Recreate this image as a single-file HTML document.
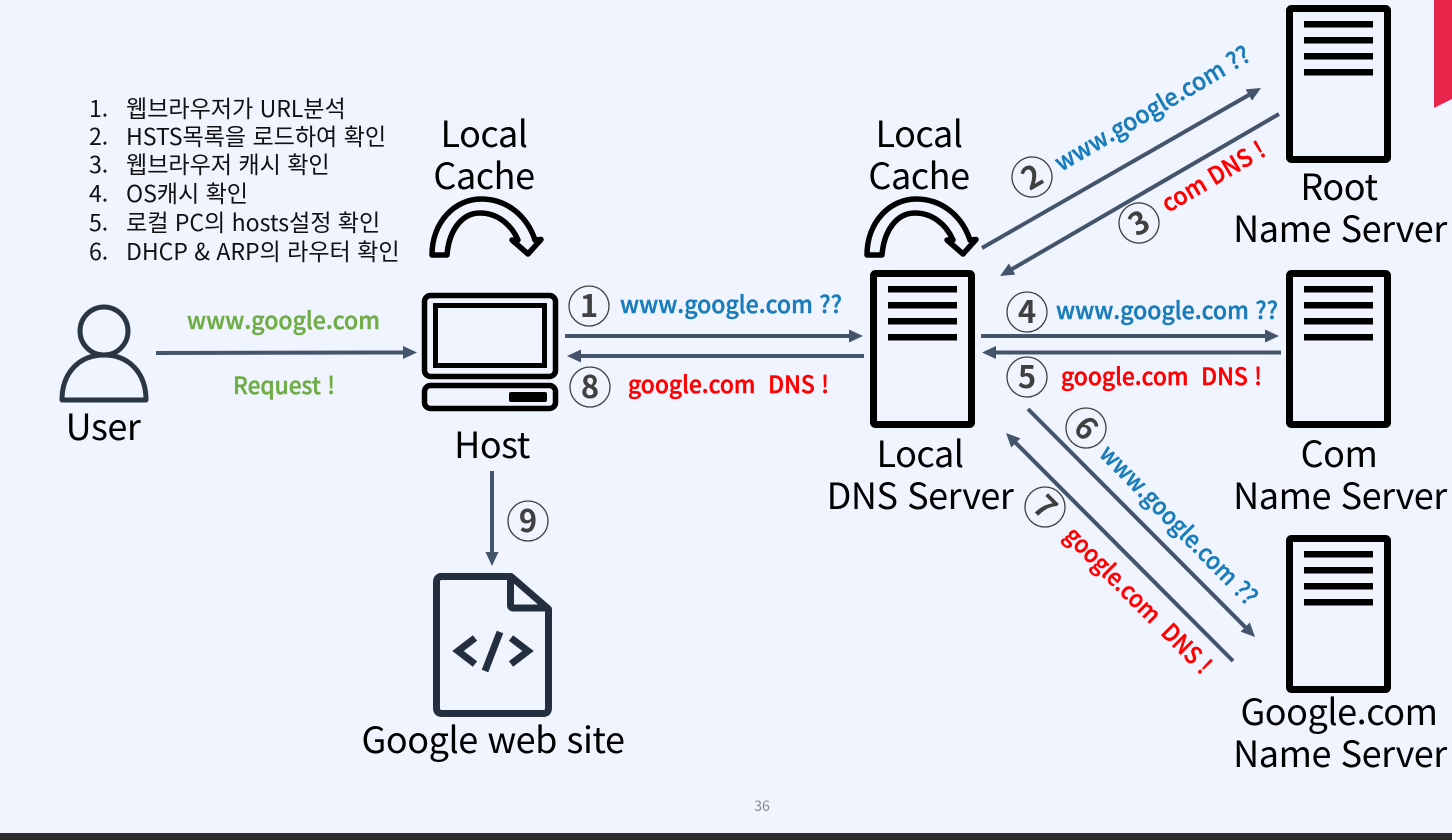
<!DOCTYPE html>
<html lang="ko">
<head>
<meta charset="utf-8">
<style>
html,body{margin:0;padding:0;background:#f0f4ff;width:1452px;height:840px;overflow:hidden}
svg{display:block}
text{font-family:"Noto Sans CJK KR","Liberation Sans",sans-serif}
.l{font-size:36px;fill:#000;text-anchor:middle;letter-spacing:-0.45px}
.li{font-size:23.1px;fill:#111;letter-spacing:-0.05px}
.b{font-size:24px;font-weight:500;fill:#1a7dbb;stroke:#1a7dbb;stroke-width:.45}
.r{font-size:24px;font-weight:500;fill:#f00;stroke:#f00;stroke-width:.45}
.g{font-size:24px;font-weight:500;fill:#70ad47;stroke:#70ad47;stroke-width:.45}
.n{font-size:31px;font-weight:700;fill:#404040;text-anchor:middle}
.c{fill:none;stroke:#404040;stroke-width:1.3}
.a{stroke:#44546a;stroke-width:4;fill:none}
</style>
</head>
<body>
<svg width="1452" height="840" viewBox="0 0 1452 840" xmlns="http://www.w3.org/2000/svg">
<defs>
<marker id="h" markerUnits="userSpaceOnUse" markerWidth="16" markerHeight="14" refX="6" refY="6.5" orient="auto">
<path d="M0,0 L14,6.5 L0,13 Z" fill="#44546a"/>
</marker>
<g id="srv">
<rect x="3.5" y="3.5" width="98" height="151" rx="2" fill="none" stroke="#000" stroke-width="7"/>
<rect x="18" y="16" width="69" height="6.5" fill="#000"/>
<rect x="18" y="32" width="69" height="6.5" fill="#000"/>
<rect x="18" y="48" width="69" height="6.5" fill="#000"/>
<rect x="18" y="64" width="69" height="6.5" fill="#000"/>
</g>
<path id="curve" d="M432,255 C432,222 455,199 481,199 C507,199 527,216 535,240 L541,239.5 L528,254 L512,240 L518,240 C511,224 497,213 480,213 C462,213 449,230 447,255 Z" fill="none" stroke="#000" stroke-width="5.5" stroke-linejoin="round"/>
</defs>

<rect x="0" y="0" width="1452" height="840" fill="#f0f4ff"/>
<rect x="0" y="833" width="1452" height="7" fill="#2d2d2d"/>
<polygon points="1434,0 1452,0 1452,99 1434,108" fill="#e8254b"/>
<text x="762" y="811" font-size="14" fill="#8a8a8a" text-anchor="middle">36</text>

<!-- list -->
<g>
<text class="li" x="89" y="117">1.</text><text class="li" x="126" y="117">웹브라우저가 URL분석</text>
<text class="li" x="89" y="145">2.</text><text class="li" x="126" y="145">HSTS목록을 로드하여 확인</text>
<text class="li" x="89" y="173">3.</text><text class="li" x="126" y="173">웹브라우저 캐시 확인</text>
<text class="li" x="89" y="202">4.</text><text class="li" x="126" y="202">OS캐시 확인</text>
<text class="li" x="89" y="231">5.</text><text class="li" x="126" y="231">로컬 PC의 hosts설정 확인</text>
<text class="li" x="89" y="260">6.</text><text class="li" x="126" y="260">DHCP &amp; ARP의 라우터 확인</text>
</g>

<!-- user -->
<circle cx="104" cy="331" r="24" fill="none" stroke="#2b3644" stroke-width="5"/>
<path d="M62,400 C62,372 80,355 104,355 C128,355 146,372 146,400 Z" fill="none" stroke="#2b3644" stroke-width="5" stroke-linejoin="round"/>
<text class="l" x="103" y="440">User</text>

<!-- host -->
<rect x="424.5" y="295.5" width="131" height="81" rx="6" fill="none" stroke="#000" stroke-width="5.5"/>
<rect x="435.5" y="305.5" width="109" height="60" fill="none" stroke="#000" stroke-width="5"/>
<rect x="424.5" y="385.5" width="131" height="23" rx="6" fill="none" stroke="#000" stroke-width="5.5"/>
<rect x="509" y="392" width="38" height="10" rx="2" fill="#000"/>
<text class="l" x="492" y="458">Host</text>

<!-- local cache -->
<text class="l" x="484" y="147">Local</text>
<text class="l" x="484" y="189">Cache</text>
<use href="#curve"/>
<text class="l" x="919" y="147">Local</text>
<text class="l" x="919" y="189">Cache</text>
<use href="#curve" x="435"/>

<!-- servers -->
<use href="#srv" x="870" y="270"/>
<text class="l" x="920" y="467">Local</text>
<text class="l" x="920" y="509">DNS Server</text>

<use href="#srv" x="1286" y="5"/>
<text class="l" x="1339" y="200">Root</text>
<text class="l" x="1340" y="242">Name Server</text>

<use href="#srv" x="1286" y="270"/>
<text class="l" x="1339" y="467">Com</text>
<text class="l" x="1340" y="509">Name Server</text>

<use href="#srv" x="1286" y="535"/>
<text class="l" x="1339" y="725">Google.com</text>
<text class="l" x="1340" y="767">Name Server</text>

<!-- doc -->
<path d="M440,576.5 H511 L548.5,609 V708 Q548.5,713.5 543,713.5 H442 Q436.5,713.5 436.5,708 V582 Q436.5,576.5 442,576.5 Z" fill="none" stroke="#232f3e" stroke-width="7" stroke-linejoin="round"/>
<path d="M510.5,577 V605 Q510.5,608 513.5,608 H548" fill="none" stroke="#232f3e" stroke-width="7"/>
<path d="M475,638 L458,651 L475,664 M511,638 L528,651 L511,664 M500,632 L485,671" fill="none" stroke="#232f3e" stroke-width="7"/>
<text class="l" x="493" y="753">Google web site</text>

<!-- arrows -->
<line class="a" x1="156" y1="353" x2="409" y2="352.5" marker-end="url(#h)"/>
<line class="a" x1="565" y1="336" x2="855" y2="336" marker-end="url(#h)"/>
<line class="a" x1="864" y1="356" x2="575" y2="356" marker-end="url(#h)"/>
<line class="a" x1="981" y1="336" x2="1271" y2="336" marker-end="url(#h)"/>
<line class="a" x1="1281" y1="352.5" x2="990" y2="352.5" marker-end="url(#h)"/>
<line class="a" x1="982" y1="248" x2="1254" y2="92" marker-end="url(#h)"/>
<line class="a" x1="1279" y1="114" x2="1007" y2="272" marker-end="url(#h)"/>
<line class="a" x1="1028" y1="409" x2="1249.4" y2="631.3" marker-end="url(#h)"/>
<line class="a" x1="1233" y1="661" x2="1011.6" y2="438.7" marker-end="url(#h)"/>
<line class="a" x1="492" y1="471" x2="492" y2="558" marker-end="url(#h)"/>

<!-- labels -->
<text class="g" x="187" y="329" textLength="193" lengthAdjust="spacingAndGlyphs">www.google.com</text>
<text class="g" x="233" y="394" textLength="102" lengthAdjust="spacingAndGlyphs">Request !</text>
<text class="b" x="620" y="313" textLength="222" lengthAdjust="spacingAndGlyphs">www.google.com ??</text>
<text class="r" x="628" y="393" textLength="201" lengthAdjust="spacingAndGlyphs">google.com&#160; DNS !</text>
<text class="b" x="1056" y="319" textLength="222" lengthAdjust="spacingAndGlyphs">www.google.com ??</text>
<text class="r" x="1061" y="385" textLength="201" lengthAdjust="spacingAndGlyphs">google.com&#160; DNS !</text>
<text class="b" transform="translate(1061,172) rotate(-30.4)" textLength="222" lengthAdjust="spacingAndGlyphs">www.google.com ??</text>
<text class="r" transform="translate(1168,213) rotate(-30.4)" textLength="115" lengthAdjust="spacingAndGlyphs">com DNS !</text>
<text class="b" transform="translate(1098,455) rotate(45.5)" textLength="213" lengthAdjust="spacingAndGlyphs">www.google.com ??</text>
<text class="r" transform="translate(1063,537) rotate(45)" textLength="196" lengthAdjust="spacingAndGlyphs">google.com&#160; DNS !</text>

<!-- numbers -->
<circle class="c" cx="589" cy="306" r="20"/><text class="n" x="589" y="317">1</text>
<circle class="c" cx="590" cy="387" r="20"/><text class="n" x="590" y="398">8</text>
<circle class="c" cx="1027" cy="312" r="20"/><text class="n" x="1027" y="323">4</text>
<circle class="c" cx="1027" cy="377" r="20"/><text class="n" x="1027" y="388">5</text>
<circle class="c" cx="528" cy="521" r="20"/><text class="n" x="528" y="532">9</text>
<g transform="translate(1032,177) rotate(-30)"><circle class="c" r="20"/><text class="n" y="11">2</text></g>
<g transform="translate(1139,223) rotate(-30)"><circle class="c" r="20"/><text class="n" y="11">3</text></g>
<g transform="translate(1086,428) rotate(45)"><circle class="c" r="20"/><text class="n" y="11">6</text></g>
<g transform="translate(1045,507) rotate(45)"><circle class="c" r="20"/><text class="n" y="11">7</text></g>
</svg>
</body>
</html>
